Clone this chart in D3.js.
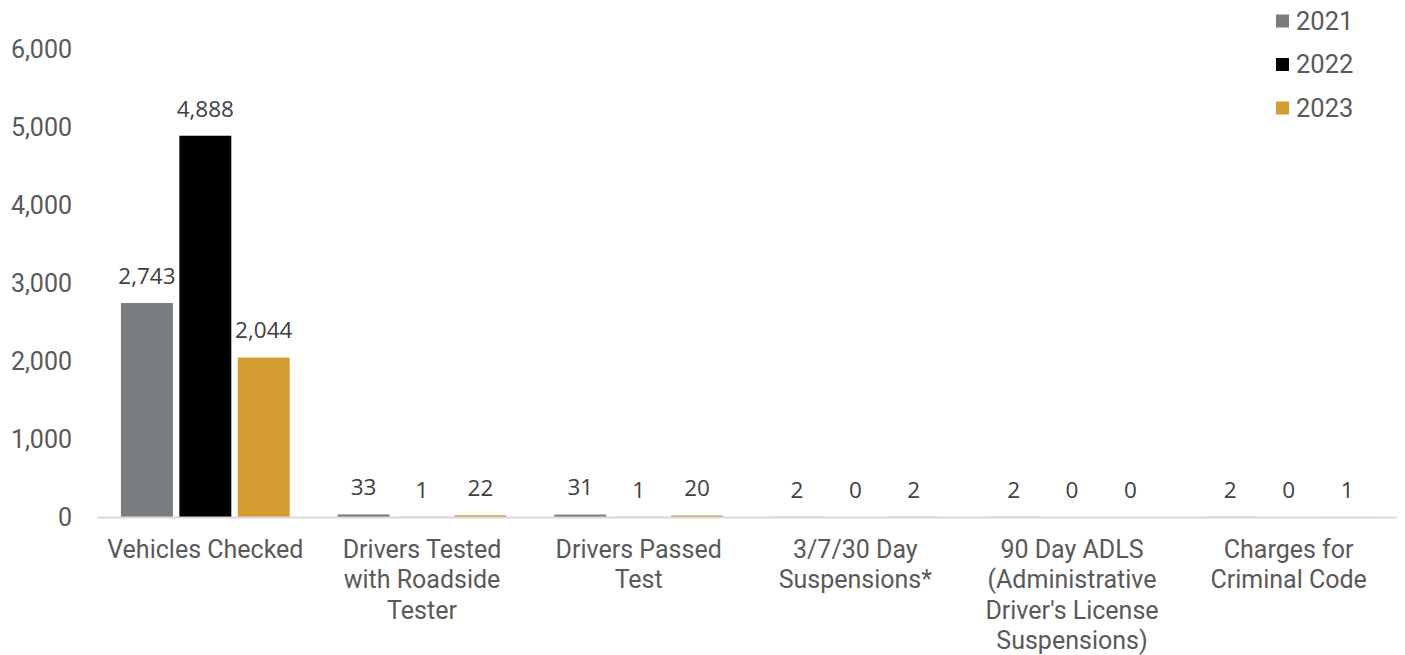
<!DOCTYPE html>
<html><head><meta charset="utf-8">
<script src="https://cdn.jsdelivr.net/npm/d3@7"></script>
<style>body{margin:0;background:#fff}svg{display:block}</style>
</head><body>
<svg id="c" width="1405" height="655"></svg>
<script>
const categories = [
  ["Vehicles Checked"],
  ["Drivers Tested", "with Roadside", "Tester"],
  ["Drivers Passed", "Test"],
  ["3/7/30 Day", "Suspensions*"],
  ["90 Day ADLS", "(Administrative", "Driver's License", "Suspensions)"],
  ["Charges for", "Criminal Code"]
];
const seriesNames = ["2021", "2022", "2023"];
const values2021 = [2743, 33, 31, 2, 2, 2];
const values2022 = [4888, 1, 1, 0, 0, 0];
const values2023 = [2044, 22, 20, 2, 0, 1];
const yTicks = [0, 1000, 2000, 3000, 4000, 5000, 6000];
const colors = ["#7a7d80", "#000000", "#d39b30"];

const series = [values2021, values2022, values2023];
const svg = d3.select("#c");
const x0 = d3.scaleBand().domain(d3.range(categories.length)).range([97, 1397]).paddingInner(0).paddingOuter(0);
const x1 = d3.scaleBand().domain(d3.range(3)).range([0, x0.bandwidth()]).paddingInner(0.11).paddingOuter(0.41);
const y = d3.scaleLinear().domain([0, 6000]).range([517, 49]);
const fmt = d3.format(",");

// y axis labels
svg.append("g").selectAll("text").data(yTicks).join("text")
  .attr("x", 72).attr("y", d => y(d)).attr("dy", "0.35em")
  .attr("text-anchor", "end")
  .attr("font-family", "Roboto, sans-serif").attr("font-size", 25).attr("fill", "#595959")
  .text(d => fmt(d));

// bars
const g = svg.append("g");
series.forEach((vals, si) => {
  g.append("g").selectAll("rect").data(vals).join("rect")
    .attr("x", (d, i) => x0(i) + x1(si))
    .attr("width", x1.bandwidth())
    .attr("y", d => y(d))
    .attr("height", d => y(0) - y(d))
    .attr("fill", colors[si]);
  g.append("g").selectAll("text").data(vals).join("text")
    .attr("x", (d, i) => x0(i) + x1(si) + x1.bandwidth() / 2)
    .attr("y", d => y(d) - 27).attr("dy", "0.35em")
    .attr("text-anchor", "middle")
    .attr("font-family", "'Open Sans', sans-serif").attr("font-size", 22.5).attr("fill", "#404040")
    .text(d => fmt(d));
});

// x axis line
svg.append("line").attr("x1", 97).attr("x2", 1397).attr("y1", y(0) + 0.5).attr("y2", y(0) + 0.5)
  .attr("stroke", "#d9d9d9").attr("stroke-width", 2);

// category labels
const cl = svg.append("g").selectAll("text").data(categories).join("text")
  .attr("x", (d, i) => x0(i) + x0.bandwidth() / 2)
  .attr("y", 549).attr("dy", "0.35em")
  .attr("text-anchor", "middle")
  .attr("font-family", "Roboto, sans-serif").attr("font-size", 25).attr("fill", "#595959");
cl.each(function(d, i) {
  const t = d3.select(this);
  d.forEach((line, li) => {
    t.append("tspan").attr("x", x0(i) + x0.bandwidth() / 2).attr("dy", li === 0 ? "0.35em" : 30.5).text(line);
  });
});

// legend
const lg = svg.append("g").selectAll("g").data(seriesNames).join("g")
  .attr("transform", (d, i) => `translate(1276, ${21 + i * 43.5})`);
lg.append("rect").attr("x", 0).attr("y", -6.5).attr("width", 13).attr("height", 13).attr("fill", (d, i) => colors[i]);
lg.append("text").attr("x", 20).attr("y", 0).attr("dy", "0.35em")
  .attr("font-family", "Roboto, sans-serif").attr("font-size", 25.5).attr("fill", "#595959").text(d => d);
</script>
</body></html>
